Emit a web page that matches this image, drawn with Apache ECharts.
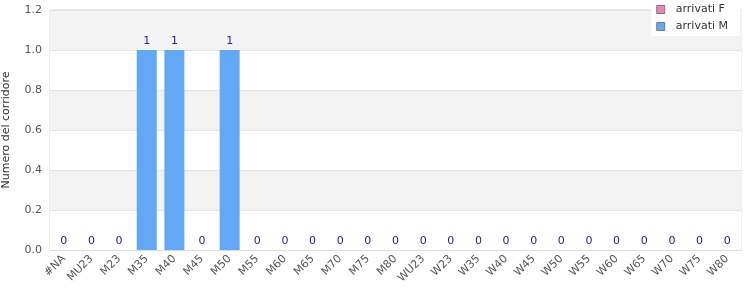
<!DOCTYPE html>
<html><head><meta charset="utf-8">
<script src="https://cdn.jsdelivr.net/npm/echarts@6/dist/echarts.min.js"></script>
<style>html,body{margin:0;padding:0;background:#fff}#c{width:750px;height:300px}</style>
</head><body><div id="c"></div>
<script>
const categories = ['#NA','MU23','M23','M35','M40','M45','M50','M55','M60','M65','M70','M75','M80','WU23','W23','W35','W40','W45','W50','W55','W60','W65','W70','W75','W80'];
const valuesF = [];
const valuesM = [0,0,0,1,1,0,1,0,0,0,0,0,0,0,0,0,0,0,0,0,0,0,0,0,0];
const yTicks = { min: 0, max: 1.2, interval: 0.2 };

const chart = echarts.init(document.getElementById('c'));
chart.setOption({
  animation: false,
  textStyle: { fontFamily: 'DejaVu Sans' },
  grid: { left: 50, right: 9, top: 10, bottom: 50, show: true, borderColor: '#dddddd', borderWidth: 1,
          containLabel: false, outerBoundsMode: 'none' },
  legend: {
    orient: 'vertical', right: 10, top: 0,
    backgroundColor: '#ffffff', padding: [4, 12, 4, 5],
    itemWidth: 8, itemHeight: 8, itemGap: 6,
    icon: 'rect',
    textStyle: { fontSize: 11, color: '#333', fontFamily: 'DejaVu Sans', padding: [0, 0, 0, 6] },
    data: [
      { name: 'arrivati F', itemStyle: { color: '#ec82b8', borderColor: '#777', borderWidth: 1 } },
      { name: 'arrivati M', itemStyle: { color: '#62a8f5', borderColor: '#777', borderWidth: 1 } }
    ]
  },
  xAxis: {
    type: 'category', data: categories,
    axisLine: { lineStyle: { color: '#dddddd' } },
    axisTick: { show: false },
    axisLabel: { rotate: 45, interval: 0, fontSize: 11, color: '#555', fontFamily: 'DejaVu Sans', margin: 7 }
  },
  yAxis: {
    type: 'value', min: yTicks.min, max: yTicks.max, interval: yTicks.interval,
    name: 'Numero del corridore', nameLocation: 'middle', nameGap: 38,
    nameTextStyle: { fontSize: 11, color: '#333', fontFamily: 'DejaVu Sans' },
    axisLine: { show: false }, axisTick: { show: false },
    axisLabel: { fontSize: 11, color: '#555', formatter: v => v.toFixed(1), fontFamily: 'DejaVu Sans' },
    splitLine: { lineStyle: { color: '#e2e2e2' } },
    splitArea: { show: true, areaStyle: { color: ['#ffffff', '#f3f3f3'] } }
  },
  series: [
    { name: 'arrivati F', type: 'bar', data: valuesF, barWidth: 20, barGap: '-100%', itemStyle: { color: '#ec82b8' } },
    { name: 'arrivati M', type: 'bar', data: valuesM, barWidth: 20, barGap: '-100%',
      itemStyle: { color: '#62a8f5' },
      label: { show: true, position: 'top', distance: 3, fontSize: 11, color: '#1c1c99', fontFamily: 'DejaVu Sans' } }
  ]
});
</script></body></html>
